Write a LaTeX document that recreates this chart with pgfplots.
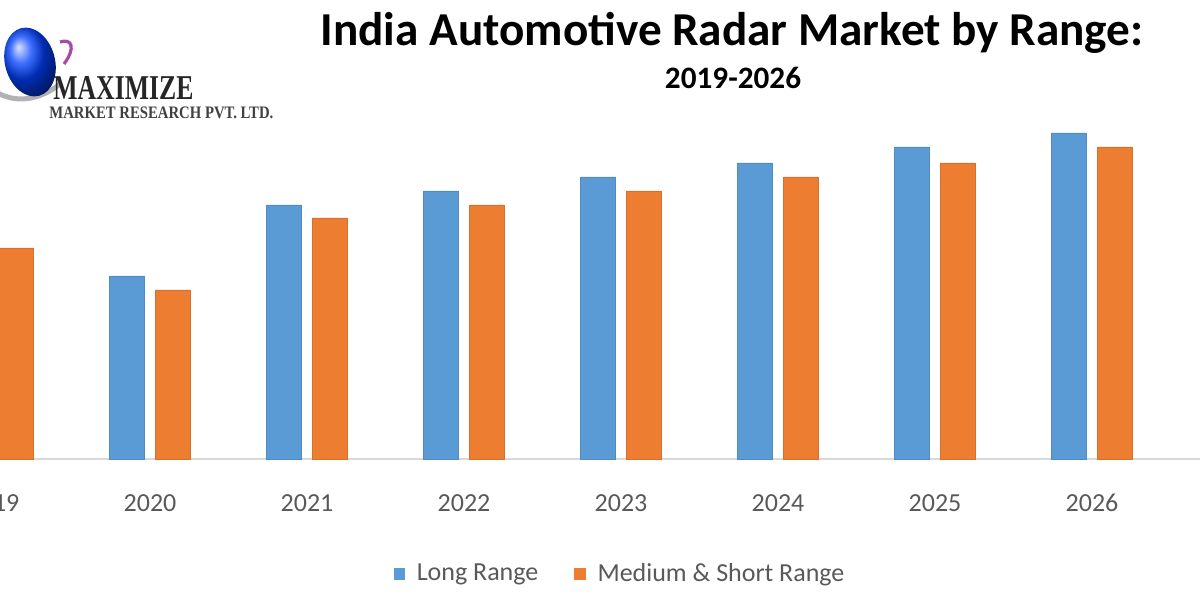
\documentclass[border=0pt]{standalone}
\usepackage{pgfplots}
\pgfplotsset{compat=1.18}
\usepackage{fontspec}
\setmainfont{Carlito}
\newfontfamily\logofont{Liberation Serif}
\usepackage{graphicx}
\definecolor{lblue}{HTML}{5B9BD5}
\definecolor{lorange}{HTML}{ED7D31}
\definecolor{tgray}{HTML}{595959}
\definecolor{agray}{HTML}{D9D9D9}
\begin{document}
\begin{tikzpicture}
% logo
\draw[gray!60, line width=2.5pt] (-2pt,254pt) .. controls (8pt,248pt) and (20pt,250pt) .. (30pt,258pt);
\shade[ball color=blue!75!cyan, rotate around={15:(15pt,269pt)}] (15pt,269pt) ellipse (12.5pt and 17.5pt);
\draw[violet!70, line width=1.6pt] (30pt,279pt) .. controls (36pt,281pt) and (38pt,276pt) .. (32pt,268pt);
\node[anchor=south west, inner sep=0pt, text=black!85] at (26.5pt,250pt) {\resizebox{70pt}{11.5pt}{\logofont\bfseries MAXIMIZE}};
\node[anchor=south west, inner sep=0pt, text=black!75] at (24.5pt,240.5pt) {\resizebox{112pt}{5.8pt}{\logofont\bfseries MARKET RESEARCH PVT. LTD.}};
% titles
\node[font=\fontsize{23.6}{28}\selectfont\bfseries, text=black] at (366pt,283.5pt) {India Automotive Radar Market by Range:};
\node[font=\fontsize{15.6}{18}\selectfont\bfseries, text=black] at (366.5pt,261pt) {2019-2026};
\begin{axis}[
  at={(-27.05pt,70.5pt)}, anchor=south west,
  scale only axis, width=627.06pt, height=170pt,
  xmin=-0.3, xmax=7.688, ymin=0, ymax=340,
  ybar=5.2pt, bar width=17.5pt,
  axis x line*=bottom, axis y line=none,
  x axis line style={agray, line width=1pt, -},
  xtick={0,1,2,3,4,5,6,7},
  xticklabels={2019,2020,2021,2022,2023,2024,2025,2026},
  xtick style={draw=none},
  ytick=\empty,
  xticklabel style={anchor=center, yshift=-17.75pt, font=\fontsize{13}{15}\selectfont, text=tgray},
  legend columns=2,
  legend style={at={(0.5383,-0.338)}, anchor=center, draw=none, fill=none,
    font=\fontsize{13}{15}\selectfont, text=tgray,
    /tikz/every even column/.append style={column sep=16pt}},
  legend image code/.code={\fill[#1,draw=none] (0pt,-2.8pt) rectangle (5.6pt,2.8pt); \path[draw=none,fill=none] (9.6pt,0pt);},
]
\addplot[fill=lblue, draw=lblue!90!black] coordinates {(0,225) (1,183) (2,254) (3,268) (4,282) (5,296) (6,312) (7,326)};
\addplot[fill=lorange, draw=lorange!90!black] coordinates {(0,211) (1,169) (2,241) (3,254) (4,268) (5,282) (6,296) (7,312)};
\legend{Long Range, Medium \& Short Range}
\end{axis}
\pgfresetboundingbox
\useasboundingbox (0pt,0pt) rectangle (600pt,300pt);
\end{tikzpicture}
\end{document}
